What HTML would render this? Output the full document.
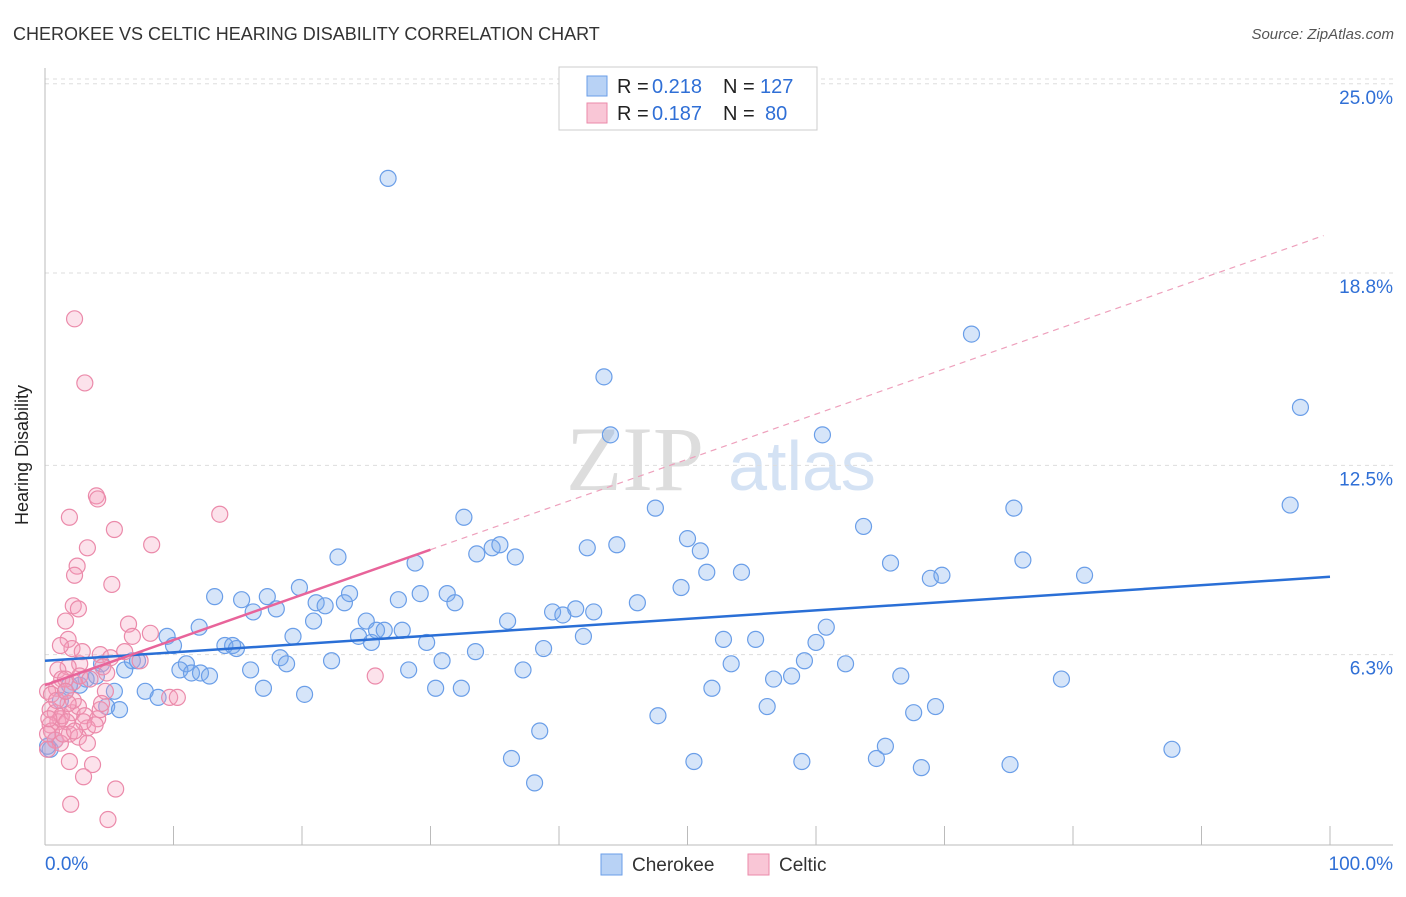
<!DOCTYPE html>
<html><head><meta charset="utf-8"><style>
body{margin:0;background:#fff;font-family:"Liberation Sans",sans-serif;}
svg text{font-family:"Liberation Sans",sans-serif;}
</style></head><body>
<svg id="chart" width="1406" height="892" xmlns="http://www.w3.org/2000/svg">
<text x="13" y="40" font-size="18" fill="#333">CHEROKEE VS CELTIC HEARING DISABILITY CORRELATION CHART</text>
<text x="1394" y="39" font-size="15" fill="#555" font-style="italic" text-anchor="end">Source: ZipAtlas.com</text>
<text x="28" y="455" font-size="18" fill="#222" text-anchor="middle" transform="rotate(-90 28 455)">Hearing Disability</text>
<g>
<text x="635" y="490" font-size="92" fill="#ddd" text-anchor="middle" style="font-family:'Liberation Serif',serif">ZIP</text>
<text x="802" y="490" font-size="70" fill="#d4e2f4" text-anchor="middle">atlas</text>
</g>
<g id="grid"></g><g id="axes"></g><g id="pts"></g><g id="lines"></g>
<g>
<rect x="559" y="67" width="258" height="63" fill="#fff" stroke="#ccc"/>
<rect x="587" y="76" width="20" height="20" fill="#b8d2f5" stroke="#6a9ee8"/>
<rect x="587" y="103" width="20" height="20" fill="#f9c6d6" stroke="#eb8aaa"/>
<text x="617" y="93" font-size="20" fill="#222">R =</text>
<text x="652" y="93" font-size="20" fill="#2f6fd6">0.218</text>
<text x="723" y="93" font-size="20" fill="#222">N =</text>
<text x="760" y="93" font-size="20" fill="#2f6fd6">127</text>
<text x="617" y="120" font-size="20" fill="#222">R =</text>
<text x="652" y="120" font-size="20" fill="#2f6fd6">0.187</text>
<text x="723" y="120" font-size="20" fill="#222">N =</text>
<text x="765" y="120" font-size="20" fill="#2f6fd6">80</text>
</g>
<g>
<rect x="601" y="854" width="21" height="21" fill="#b8d2f5" stroke="#6a9ee8"/>
<text x="632" y="871" font-size="19" fill="#333">Cherokee</text>
<rect x="748" y="854" width="21" height="21" fill="#f9c6d6" stroke="#eb8aaa"/>
<text x="779" y="871" font-size="19" fill="#333">Celtic</text>
</g>
<text x="45" y="870" font-size="19" fill="#2f6fd6">0.0%</text>
<text x="1393" y="870" font-size="19" fill="#2f6fd6" text-anchor="end">100.0%</text>
</svg>
<script>
const yTicks=[25,18.8,12.5,6.3];
const yTickLabels=["25.0%","18.8%","12.5%","6.3%"];
const xTicks=[0,10,20,30,40,50,60,70,80,90,100];
const blueX=[26.7,43.5,72.1,97.7,44.0,60.5,32.6,47.5,63.7,75.4,96.9,22.8,28.8,33.6,34.8,35.4,36.6,42.2,44.5,50.0,51.0,51.5,54.2,65.8,68.9,69.8,76.1,80.9,13.2,15.3,16.2,17.3,18.0,19.8,20.9,21.1,21.8,23.3,23.7,25.0,24.4,25.4,25.8,26.4,27.5,27.8,29.2,29.7,31.3,31.9,36.0,38.8,39.5,40.3,41.3,42.7,41.9,46.1,49.5,52.8,55.3,60.0,60.8,9.5,10.0,12.0,14.0,14.6,14.9,19.3,11.0,10.5,11.4,12.1,12.8,16.0,18.3,18.8,22.3,28.3,30.9,33.5,37.2,53.4,59.1,62.3,6.2,6.8,7.2,4.4,4.0,3.2,2.7,5.4,7.8,8.8,17.0,20.2,30.4,32.4,51.9,56.7,58.1,66.6,79.1,4.8,5.8,56.2,47.7,67.6,69.3,38.5,36.3,38.1,50.5,58.9,64.7,65.4,68.2,75.1,87.7,0.4,0.8,1.2,1.6,1.9,0.2];
const blueY=[21.9,15.4,16.8,14.4,13.5,13.5,10.8,11.1,10.5,11.1,11.2,9.5,9.3,9.6,9.8,9.9,9.5,9.8,9.9,10.1,9.7,9.0,9.0,9.3,8.8,8.9,9.4,8.9,8.2,8.1,7.7,8.2,7.8,8.5,7.4,8.0,7.9,8.0,8.3,7.4,6.9,6.7,7.1,7.1,8.1,7.1,8.3,6.7,8.3,8.0,7.4,6.5,7.7,7.6,7.8,7.7,6.9,8.0,8.5,6.8,6.8,6.7,7.2,6.9,6.6,7.2,6.6,6.6,6.5,6.9,6.0,5.8,5.7,5.7,5.6,5.8,6.2,6.0,6.1,5.8,6.1,6.4,5.8,6.0,6.1,6.0,5.8,6.1,6.1,6.0,5.6,5.5,5.3,5.1,5.1,4.9,5.2,5.0,5.2,5.2,5.2,5.5,5.6,5.6,5.5,4.6,4.5,4.6,4.3,4.4,4.6,3.8,2.9,2.1,2.8,2.8,2.9,3.3,2.6,2.7,3.2,3.2,3.5,4.8,5.1,5.3,3.3];
const pinkX=[2.3,3.1,4.0,4.1,1.9,13.6,5.4,8.3,3.3,2.5,2.3,5.2,2.2,2.6,6.5,6.8,8.2,1.6,1.8,2.1,1.2,2.9,4.3,5.1,6.2,2.7,1.8,1.0,4.5,4.8,1.3,2.2,0.9,0.2,0.5,1.6,2.7,3.5,4.7,9.7,10.3,25.7,0.4,0.8,1.2,1.0,1.3,2.1,2.6,3.1,4.1,3.3,3.0,1.7,0.4,0.5,0.8,1.9,2.6,1.2,3.3,4.3,4.4,0.2,1.9,3.7,3.0,5.5,2.0,4.9,0.2,1.4,3.9,2.2,1.8,0.9,2.3,0.3,1.6,7.4];
const pinkY=[17.3,15.2,11.5,11.4,10.8,10.9,10.4,9.9,9.8,9.2,8.9,8.6,7.9,7.8,7.3,6.9,7.0,7.4,6.8,6.5,6.6,6.4,6.3,6.2,6.4,6.0,5.9,5.8,5.9,5.7,5.5,5.4,5.2,5.1,5.0,5.5,5.6,5.5,5.1,4.9,4.9,5.6,4.5,4.4,4.2,4.1,4.3,4.4,4.6,4.3,4.2,3.9,4.1,4.1,4.0,3.8,3.5,3.7,3.6,3.4,3.4,4.5,4.7,3.7,2.8,2.7,2.3,1.9,1.4,0.9,3.2,3.7,4.0,4.8,4.7,4.8,3.8,4.2,5.1,6.1];
const blueTrend=[6.1,8.85];
const pinkTrend=[5.3,0.148];
const pinkSolidEnd=30, pinkDashEnd=99.5;

const NS="http://www.w3.org/2000/svg";
const X=v=>45+v*12.85, Y=v=>847-v*30.53;
function mk(tag,attrs,parent){const e=document.createElementNS(NS,tag);for(const k in attrs)e.setAttribute(k,attrs[k]);document.getElementById(parent).appendChild(e);return e;}
yTicks.forEach((t,i)=>{
  const l=mk('line',{x1:45,x2:1393,y1:Y(t),y2:Y(t),stroke:'#ddd','stroke-dasharray':'4,4'},'grid');
  
  
  const tx=mk('text',{x:1393,y:Y(t)+20,'font-size':19,fill:'#2f6fd6','text-anchor':'end'},'grid');
  tx.textContent=yTickLabels[i];
  
  
});
const topGrid=mk('line',{x1:45,x2:1393,y1:79,y2:79,stroke:'#ddd','stroke-dasharray':'4,4'},'grid');


const ax=mk('line',{x1:45,x2:1393,y1:845,y2:845,stroke:'#bbb'},'axes');


const ay=mk('line',{x1:45,x2:45,y1:68,y2:845,stroke:'#bbb'},'axes');


xTicks.forEach(t=>{
  const l=mk('line',{x1:X(t),x2:X(t),y1:826,y2:845,stroke:'#bbb'},'axes');
  
  
});
blueX.forEach((v,i)=>{
  const c=mk('circle',{cx:X(v),cy:Y(blueY[i]),r:8,fill:'rgba(120,170,235,0.3)',stroke:'#6a9ee8','stroke-width':1.2},'pts');
  
  
});
pinkX.forEach((v,i)=>{
  const c=mk('circle',{cx:X(v),cy:Y(pinkY[i]),r:8,fill:'rgba(245,160,190,0.3)',stroke:'#eb8aaa','stroke-width':1.2},'pts');
  
  
});
const bl=mk('line',{x1:X(0),y1:Y(blueTrend[0]),x2:X(100),y2:Y(blueTrend[1]),stroke:'#2a6fd6','stroke-width':2.5},'lines');


const pf=x=>pinkTrend[0]+pinkTrend[1]*x;
const pl=mk('line',{x1:X(0),y1:Y(pf(0)),x2:X(pinkSolidEnd),y2:Y(pf(pinkSolidEnd)),stroke:'#e8649a','stroke-width':2.5},'lines');


const pd=mk('line',{x1:X(pinkSolidEnd),y1:Y(pf(pinkSolidEnd)),x2:X(pinkDashEnd),y2:Y(pf(pinkDashEnd)),stroke:'#eea0bc','stroke-width':1.2,'stroke-dasharray':'6,5'},'lines');


</script>
</body></html>
